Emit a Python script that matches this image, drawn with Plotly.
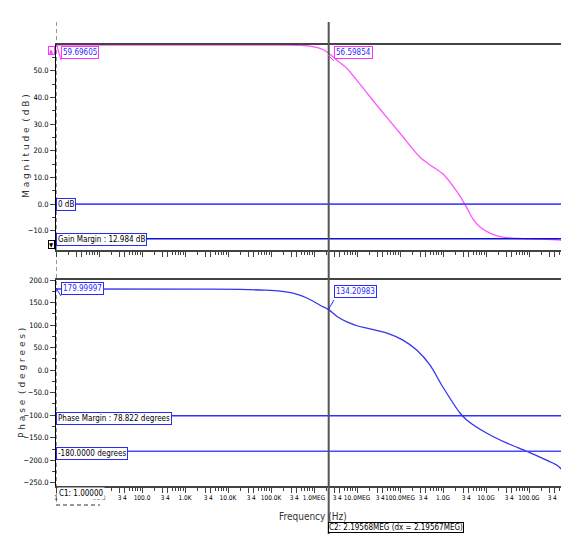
import plotly.graph_objects as go

# the page body adds an 8 px offset, so the figure is 8 px smaller than the window
OFF = 8
W, H = 569 - OFF, 534 - OFF

# ---- data ----
mag_freq = [1.0, 1.62e5, 4.72e5, 8.07e5, 1.62e6, 2.19568e6, 3.43e6, 5.85e6, 1.17e7, 3.43e7, 1.0e8,
            2.92e8, 4.99e8, 1.0e9, 1.71e9, 2.48e9, 3.61e9, 4.99e9, 7.24e9, 1.24e10, 2.12e10,
            3.61e10, 1.05e11, 5.25e11, 8.51e11]
mag_db = [59.69605, 59.69, 59.6, 59.3, 58.0, 56.59854, 54.0, 50.9, 45.0, 35.6, 26.6,
          17.6, 14.7, 11.3, 6.8, 3.0, -1.5, -5.6, -8.6, -10.9, -12.2,
          -12.7, -13.0, -13.5, -14.6]

phase_freq = [1.0, 2.23e3, 1.9e4, 7.24e4, 1.62e5, 3.25e5, 6.87e5, 1.38e6, 2.19568e6, 3.43e6, 5.85e6,
              1.0e7, 1.71e7, 4.99e7, 1.17e8, 2.48e8, 4.99e8, 1.0e9, 2.48e9, 3.61e9, 1.05e10, 3.08e10,
              8.97e10, 2.62e11, 4.48e11, 8.51e11]
phase_deg = [179.99997, 179.8, 179.0, 177.5, 175.5, 171.0, 160.0, 144.0, 134.20983, 119.0, 107.0,
             98.5, 93.0, 82.0, 66.5, 44.0, 11.0, -38.0, -95.0, -111.0, -140.0, -162.0,
             -180.0, -200.0, -211.0, -237.0]

zero_db = 0.0
gain_margin_db = 12.984
phase_margin_deg = 78.822
minus180 = -180.0

c1_freq = 1.0
c2_freq = 2.19568e6

major_vals = [1, 10, 100, 1e3, 1e4, 1e5, 1e6, 1e7, 1e8, 1e9, 1e10, 1e11]
major_text = ["1", "10.0", "100.0", "1.0K", "10.0K", "100.0K", "1.0MEG", "10.0MEG",
              "100.0MEG", "1.0G", "10.0G", "100.0G"]
label_mults = [3, 4]
minor_mults = [2, 3, 4, 5, 6, 7, 8, 9]

mag_ticks = [-10, 0, 10, 20, 30, 40, 50]
phase_ticks = [-250, -200, -150, -100, -50, 0, 50, 100, 150, 200]

labels = {
    "c1_mag": "59.69605",
    "c2_mag": "56.59854",
    "c1_ph": "179.99997",
    "c2_ph": "134.20983",
    "zero": "0 dB",
    "gm": "Gain Margin : 12.984 dB",
    "pm": "Phase Margin : 78.822 degrees",
    "m180": "-180.0000 degrees",
    "c1": "C1: 1.00000",
    "c2": "C2: 2.19568MEG (dx = 2.19567MEG)",
}

# ---- layout helpers (reference pixel -> paper) ----
L, R = 56, 569   # reference pixels of the plot's left / right edge
def pxx(x):
    return (x - L) / (R - L)
def pxy(y):
    return (534 - y) / H

FONT = "Liberation Sans Narrow, DejaVu Sans Condensed, Arial Narrow, sans-serif"

tickvals = []
ticktext = []
for i, (v, t) in enumerate(zip(major_vals, major_text)):
    tickvals.append(v)
    ticktext.append(t)
    for m in label_mults:
        tickvals.append(v * m)
        # the first decade's "3 4" sits under the C1 readout box
        ticktext.append("" if i == 0 else str(m))
minor_vals = [v * m for v in major_vals for m in minor_mults]

fig = go.Figure()

# magnitude panel
fig.add_trace(go.Scatter(x=mag_freq, y=mag_db, mode="lines",
                         line=dict(color="#ff55ff", width=1.3, shape="spline", smoothing=0.8),
                         xaxis="x", yaxis="y"))
fig.add_trace(go.Scatter(x=[1, 1e12], y=[zero_db, zero_db], mode="lines", line=dict(color="#4a4aff", width=1.6),
                         xaxis="x", yaxis="y"))
fig.add_trace(go.Scatter(x=[1, 1e12], y=[-gain_margin_db, -gain_margin_db], mode="lines",
                         line=dict(color="#1010d0", width=1.5), xaxis="x", yaxis="y"))

# phase panel
fig.add_trace(go.Scatter(x=phase_freq, y=phase_deg, mode="lines",
                         line=dict(color="#3535ee", width=1.3, shape="spline", smoothing=0.8),
                         xaxis="x2", yaxis="y2"))
fig.add_trace(go.Scatter(x=[1, 1e12], y=[minus180 + phase_margin_deg] * 2, mode="lines",
                         line=dict(color="#3030ff", width=1.5), xaxis="x2", yaxis="y2"))
fig.add_trace(go.Scatter(x=[1, 1e12], y=[minus180, minus180], mode="lines",
                         line=dict(color="#4a4aff", width=1.5), xaxis="x2", yaxis="y2"))

# cursors on a full-height overlay axis (y in reference pixels from top)
fig.add_trace(go.Scatter(x=[c1_freq, c1_freq], y=[22, 505], mode="lines",
                         line=dict(color="#333333", width=1, dash="4px,3px"), xaxis="x3", yaxis="y3"))
fig.add_trace(go.Scatter(x=[c2_freq, c2_freq], y=[22, 534], mode="lines",
                         line=dict(color="#555555", width=2), xaxis="x3", yaxis="y3"))

xcommon = dict(type="log", range=[0, 11.93], domain=[0, 1], showgrid=False, zeroline=False,
               showline=True, linecolor="#444444", linewidth=2, mirror=True, layer="below traces",
               ticks="outside", ticklen=5, tickcolor="#444444", tickvals=tickvals, tickangle=0,
               minor=dict(tickvals=minor_vals, ticks="outside", ticklen=3, tickcolor="#444444"))

fig.update_layout(
    width=W, height=H, margin=dict(l=L - OFF, r=0, t=0, b=0, autoexpand=False),
    paper_bgcolor="white", plot_bgcolor="rgba(0,0,0,0)", showlegend=False,
    font=dict(family=FONT, size=8, color="black"),
    xaxis=dict(xcommon, anchor="y", showticklabels=False),
    yaxis=dict(domain=[pxy(250), pxy(45)], range=[-17.2, 59.69605], anchor="x",
               showgrid=False, zeroline=False, showline=True, linecolor="black", linewidth=1,
               ticks="outside", ticklen=5, tickvals=mag_ticks, tickformat=".1f",
               minor=dict(dtick=5, ticks="outside", ticklen=3), tickfont=dict(size=7.5)),
    xaxis2=dict(xcommon, anchor="y2", ticktext=ticktext, tickfont=dict(size=6.5), ticklabelstandoff=-1),
    yaxis2=dict(domain=[pxy(486), pxy(280)], range=[-257, 200], anchor="x2",
                showgrid=False, zeroline=False, showline=True, linecolor="black", linewidth=1,
                ticks="outside", ticklen=5, tickvals=phase_ticks, tickformat=".1f",
                minor=dict(dtick=25, ticks="outside", ticklen=3), tickfont=dict(size=7.5)),
    xaxis3=dict(type="log", range=[0, 11.93], domain=[0, 1], anchor="y3", visible=False),
    yaxis3=dict(range=[534, OFF], domain=[0, 1], anchor="x3", visible=False),
)

MAG = "#ff33ff"
BLUE = "#2a2aff"

def box(text, left, top, border, color="black", size=8, pad=1):
    fig.add_annotation(text=text, xref="paper", yref="paper", x=pxx(left), y=pxy(top),
                       xanchor="left", yanchor="top", showarrow=False, bgcolor="white",
                       bordercolor=border, borderwidth=1, borderpad=pad,
                       font=dict(family=FONT, size=size, color=color))

box(labels["c1_mag"], 61, 46, MAG, BLUE)
box(labels["c2_mag"], 334, 46, MAG, BLUE)
box("▲", 48, 46, MAG, MAG, size=6, pad=0)
box(labels["zero"], 56, 198, BLUE, "black")
box(labels["gm"], 56, 233, BLUE, "black")
box("▼", 48, 240, "black", "black", size=6, pad=0)
box(labels["c1_ph"], 61, 282, BLUE, BLUE)
box(labels["c2_ph"], 334, 285, BLUE, BLUE)
box(labels["pm"], 56, 412, BLUE, "black")
box(labels["m180"], 56, 447, BLUE, "black")
box(labels["c1"], 57, 487, "rgba(0,0,0,0)", "black")
box(labels["c2"], 328, 522, "black", "black", size=8, pad=0)

# leader lines from cursor values to the labels
for (x0, y0, x1, y1, c) in [(57, 46, 61, 60, MAG), (328, 55, 334, 61, MAG),
                            (56, 288, 61, 296, BLUE), (328, 310, 334, 300, BLUE)]:
    fig.add_shape(type="line", xref="paper", yref="paper", x0=pxx(x0), y0=pxy(y0), x1=pxx(x1), y1=pxy(y1),
                  line=dict(color=c, width=1))
# dashed underline of the C1 label
fig.add_shape(type="line", xref="paper", yref="paper", x0=pxx(56), y0=pxy(505), x1=pxx(100), y1=pxy(505),
              line=dict(color="#333333", width=1, dash="4px,3px"))

# axis titles
fig.add_annotation(text="M a g n i t u d e  ( d B )", xref="paper", yref="paper", x=pxx(26), y=pxy(146),
                   xanchor="center", yanchor="middle", textangle=-90, showarrow=False,
                   font=dict(family="DejaVu Sans", size=9, color="#333333"))
fig.add_annotation(text="P h a s e  ( d e g r e e s )", xref="paper", yref="paper", x=pxx(22), y=pxy(383),
                   xanchor="center", yanchor="middle", textangle=-90, showarrow=False,
                   font=dict(family="DejaVu Sans", size=9, color="#333333"))
fig.add_annotation(text="Frequency (Hz)", xref="paper", yref="paper", x=pxx(313), y=pxy(516),
                   xanchor="center", yanchor="middle", showarrow=False,
                   font=dict(family=FONT, size=10, color="#333333"))

fig.write_html("out.html")
